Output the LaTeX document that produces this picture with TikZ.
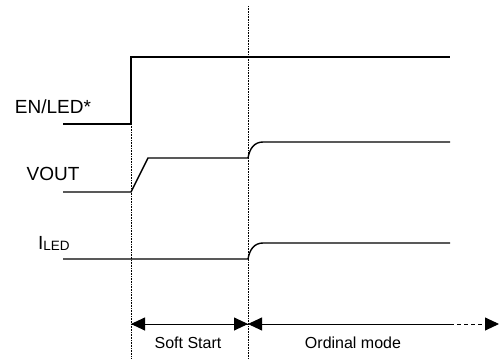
\documentclass[tikz,border=0pt]{standalone}
\usepackage{fontspec}
\setmainfont{Liberation Sans}
\usetikzlibrary{arrows.meta}

\tikzset{
  signal/.style={line width=1.4pt, line join=miter},
  marker/.style={densely dotted, line width=0.6pt},
  span/.style={line width=0.9pt},
  tip/.style={-{Triangle[length=14pt,width=13pt]}},
  lbl/.style={inner sep=0pt, font=\fontsize{19}{22}\selectfont},
  phase/.style={inner sep=0pt, font=\fontsize{16}{19}\selectfont}
}

\begin{document}
\begin{tikzpicture}[x=1pt,y=-1pt]
                \useasboundingbox (0,0) rectangle (499,359);
                % time markers
                \coordinate (t0top) at (131,124);
                \coordinate (t0bot) at (131,359);
                \coordinate (t1top) at (248,6);
                \coordinate (t1bot) at (248,359);
                \draw[marker] (t0top)--(t0bot);
                \draw[marker] (t1top)--(t1bot);
                % signals
                \node[lbl] (en) at (53,107) {EN/LED*};
                \draw[signal] (63,124)--(131,124)--(131,57)--(450,57);
                \node[lbl] (vout) at (53,174) {VOUT};
                \draw[signal] (63,192)--(131,192)--(148,158)--(248,158)
                    .. controls (249.5,149) and (254,142) .. (263,142)--(450,142);
                \node[lbl, anchor=base west] (iled) at (38,249) {I\raisebox{-1pt}{\fontsize{13.5}{15}\selectfont LED}};
                \draw[signal] (63,259)--(248,259)
                    .. controls (249.5,250) and (254,243) .. (263,243)--(450,243);
                % phases
                \coordinate (ss) at (131,324);
                \coordinate (om) at (248,324);
                \coordinate (omsolid) at (450,324);
                \coordinate (omend) at (499,324);
                \draw[span, tip] (om)--(ss);
                \draw[span, tip] (ss)--(om);
                \draw[span, tip] (omsolid)--(om);
                \draw[span, dash pattern=on 4pt off 3pt, tip] (omsolid)--(omend);
                \node[phase] (soft) at (188,343) {Soft Start};
                \node[phase] (ordinal) at (353,343) {Ordinal mode};
            \end{tikzpicture}
\end{document}
